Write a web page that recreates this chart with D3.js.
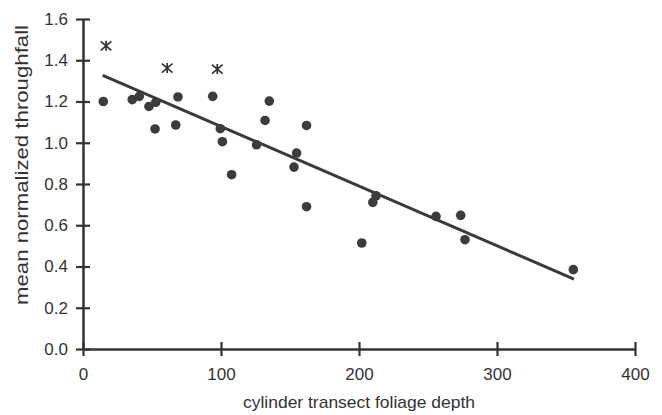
<!DOCTYPE html>
<html>
<head>
<meta charset="utf-8">
<script src="https://cdn.jsdelivr.net/npm/d3@7/dist/d3.min.js"></script>
<style>
  html, body { margin: 0; padding: 0; background: #fff; }
  svg text { font-family: "Liberation Sans", Arial, sans-serif; }
</style>
</head>
<body>
<svg id="chart" width="662" height="415"></svg>
<script>
// Circles: cylinder transect foliage depth vs mean normalized throughfall
const depth = [14.7, 35.7, 40.8, 47.8, 52.7, 52.2, 68.8, 67.2, 94, 99.5, 101, 107.7, 125.8, 131.9, 135, 162, 154.8, 152.9, 162, 202, 212.3, 210, 255.8, 273.7, 276.8, 355.3];
const throughfall = [1.20, 1.209, 1.225, 1.176, 1.196, 1.067, 1.222, 1.086, 1.225, 1.068, 1.005, 0.845, 0.99, 1.108, 1.202, 1.084, 0.95, 0.882, 0.69, 0.514, 0.743, 0.711, 0.643, 0.648, 0.53, 0.385];
// Asterisk points
const starDepth = [16.7, 61, 97.3];
const starThroughfall = [1.47, 1.362, 1.357];
// Fitted line end points
const fitX = [14.3, 355.8];
const fitY = [1.327, 0.339];
// Ticks
const xTicks = [0, 100, 200, 300, 400];
const yTicks = [0, 0.2, 0.4, 0.6, 0.8, 1.0, 1.2, 1.4, 1.6];

const svg = d3.select("#chart");
const m = {left: 83, right: 27, top: 19, bottom: 66};
const W = 662, H = 415;
const x = d3.scaleLinear().domain([0, 400]).range([m.left, W - m.right]);
const y = d3.scaleLinear().domain([0, 1.6]).range([H - m.bottom, m.top]);

const ink = "#333";
const txt = "#333";

// Y axis
const yAxis = svg.append("g").attr("transform", `translate(${m.left},0)`)
  .call(d3.axisLeft(y).tickValues(yTicks).tickFormat(d3.format(".1f")).tickSizeInner(7).tickSizeOuter(0).tickPadding(8));
yAxis.select(".domain").attr("stroke", ink).attr("stroke-width", 2.5);
yAxis.selectAll(".tick line").attr("stroke", ink).attr("stroke-width", 2.2).attr("x2", 7).attr("x1", -7);
yAxis.selectAll(".tick text").attr("fill", txt).style("font-size", "17px");

// X axis
const xAxis = svg.append("g").attr("transform", `translate(0,${y(0)})`)
  .call(d3.axisBottom(x).tickValues(xTicks).tickFormat(d3.format("d")).tickSizeInner(7).tickSizeOuter(0).tickPadding(12));
xAxis.select(".domain").attr("stroke", ink).attr("stroke-width", 2.5);
xAxis.selectAll(".tick line").attr("stroke", ink).attr("stroke-width", 2.2).attr("y1", -7).attr("y2", 7);
xAxis.selectAll(".tick text").attr("fill", txt).style("font-size", "17px");

// Axis titles
svg.append("text")
  .attr("x", x(200)).attr("y", 408)
  .attr("text-anchor", "middle").attr("fill", txt).style("font-size", "17px")
  .attr("textLength", 232).attr("lengthAdjust", "spacingAndGlyphs")
  .text("cylinder transect foliage depth");
svg.append("text")
  .attr("transform", `translate(28,165) rotate(-90)`)
  .attr("text-anchor", "middle").attr("fill", txt).style("font-size", "18.5px")
  .attr("textLength", 280).attr("lengthAdjust", "spacingAndGlyphs")
  .text("mean normalized throughfall");

// Fitted line
svg.append("line")
  .attr("x1", x(fitX[0])).attr("y1", y(fitY[0]))
  .attr("x2", x(fitX[1])).attr("y2", y(fitY[1]))
  .attr("stroke", "#3a3a3a").attr("stroke-width", 3);

// Circles
svg.append("g").selectAll("circle")
  .data(depth.map((d, i) => [d, throughfall[i]]))
  .join("circle")
  .attr("cx", d => x(d[0])).attr("cy", d => y(d[1]))
  .attr("r", 4.8).attr("fill", "#3c3c3c");

// Asterisks
const starPath = "M0,-5L0,5M-5.3,-4.5L5.3,4.5M-5.3,4.5L5.3,-4.5";
svg.append("g").selectAll("path")
  .data(starDepth.map((d, i) => [d, starThroughfall[i]]))
  .join("path")
  .attr("transform", d => `translate(${x(d[0])},${y(d[1])})`)
  .attr("d", starPath)
  .attr("stroke", "#333").attr("stroke-width", 1.7).attr("fill", "none");
</script>
</body>
</html>
